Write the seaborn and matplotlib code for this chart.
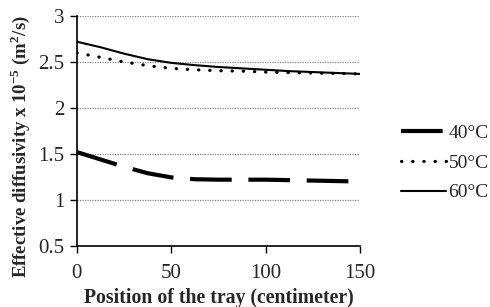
import numpy as np
import pandas as pd
import matplotlib
matplotlib.use("Agg")
import matplotlib.pyplot as plt
import seaborn as sns

# data
position = [0, 12.5, 25, 37.5, 50, 62.5, 75, 87.5, 100, 112.5, 125, 137.5, 150]
d40 = [1.52, 1.44, 1.36, 1.29, 1.245, 1.225, 1.22, 1.22, 1.22, 1.215, 1.21, 1.205, 1.20]
d50 = [2.60, 2.55, 2.50, 2.46, 2.43, 2.415, 2.405, 2.40, 2.39, 2.385, 2.38, 2.375, 2.37]
d60 = [2.72, 2.66, 2.59, 2.53, 2.49, 2.465, 2.445, 2.43, 2.415, 2.40, 2.39, 2.38, 2.37]
labels = ["40°C", "50°C", "60°C"]

sns.set_style("white")
plt.rcParams['font.family'] = ['Liberation Serif', 'DejaVu Serif']
plt.rcParams['mathtext.fontset'] = 'custom'
plt.rcParams['mathtext.rm'] = 'Liberation Serif:bold'

fig = plt.figure(figsize=(4.9, 3.07), dpi=100)
ax = fig.add_axes([0.157, 0.199, 0.578, 0.749])

styles = [dict(lw=3.0, dashes=(10, 4)),
          dict(lw=2.3, dashes=(0.1, 3.4), dash_capstyle='round'),
          dict(lw=1.5)]
for vals, lab, st in zip([d40, d50, d60], labels, styles):
    sns.lineplot(x=position, y=vals, ax=ax, color='black', label=lab, **st)

ax.set_xlim(0, 150)
ax.set_ylim(0.5, 3)
ax.set_xticks([0, 50, 100, 150])
ax.set_yticks([0.5, 1, 1.5, 2, 2.5, 3])
ax.set_yticklabels(['0.5', '1', '1.5', '2', '2.5', '3'])
ax.yaxis.grid(True, color='#888888', linestyle=(0, (1, 1)), lw=0.9)
ax.xaxis.grid(False)
for s in ['top', 'right']:
    ax.spines[s].set_visible(False)
for s in ['left', 'bottom']:
    ax.spines[s].set_color('black')
    ax.spines[s].set_linewidth(1.2)
ax.tick_params(axis='both', direction='out', length=5, width=1, color='black',
               labelsize=15, left=True, bottom=True, pad=4)
ax.tick_params(axis='x', pad=8)
ax.set_xlabel("Position of the tray (centimeter)", fontsize=14.2, fontweight='bold', va='center')
ax.set_ylabel("Effective diffusivity x 10$^{-5}$ (m$^{2}$/s)", fontsize=13.5, fontweight='bold', va='center')
ax.xaxis.set_label_coords(0.5, -0.225)
ax.yaxis.set_label_coords(-0.2, 0.43)

handles, labs = ax.get_legend_handles_labels()
ax.get_legend().remove()
fig.legend(handles, labs, loc='center left', bbox_to_anchor=(0.818, 0.469), frameon=False,
           fontsize=14, handlelength=2.3, labelspacing=0.62, handletextpad=0.15,
           borderpad=0, borderaxespad=0)

fig.savefig("out.png", dpi=100)
